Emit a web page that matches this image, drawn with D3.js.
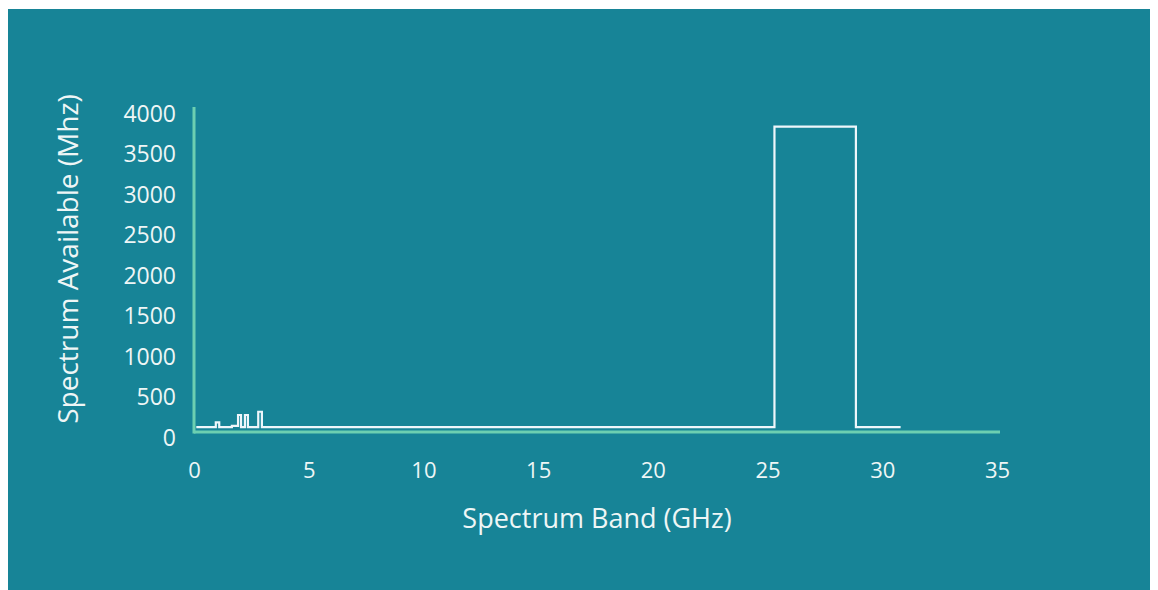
<!DOCTYPE html>
<html>
<head>
<meta charset="utf-8">
<script src="https://cdn.jsdelivr.net/npm/d3@7"></script>
<style>
  html, body { margin: 0; padding: 0; background: #ffffff; }
  svg { display: block; }
  text { font-family: "Open Sans", Lato, sans-serif; fill: #eef6f6; font-weight: 500; }
</style>
</head>
<body>
<svg id="chart" width="1158" height="590"></svg>
<script>
// Step line: frequency where each step starts (GHz) and level from there on (MHz)
const freqGHz = [0.1, 0.95, 1.1, 1.65, 1.92, 2.05, 2.22, 2.35, 2.8, 2.96, 25.3, 28.85, 30.8];
const spectrumMHz = [60, 120, 60, 75, 210, 60, 210, 60, 250, 60, 3770, 60, 60];
const xTicks = [0, 5, 10, 15, 20, 25, 30, 35];
const yTicks = [0, 500, 1000, 1500, 2000, 2500, 3000, 3500, 4000];
const xTitle = "Spectrum Band (GHz)";
const yTitle = "Spectrum Available (Mhz)";

const svg = d3.select("#chart");
const bg = "#178497";
const axisColor = "#6ccfb1";
const font = '"Open Sans", Lato, sans-serif';

svg.append("rect").attr("x", 8).attr("y", 9).attr("width", 1142).attr("height", 581).attr("fill", bg);

const x = d3.scaleLinear().domain([0, 35]).range([194, 997]);
const y = d3.scaleLinear().domain([0, 4000]).range([432, 108]);

// axes
const xAxis = svg.append("g").attr("transform", `translate(0,${y(0)})`)
  .call(d3.axisBottom(x).tickValues(xTicks).tickSize(0).tickPadding(0).tickFormat(d3.format("d")));
xAxis.select(".domain").remove();
xAxis.selectAll("text").attr("y", 30).attr("dy", "0.71em").attr("font-size", 22)
  .style("font-family", font).style("font-weight", 500).attr("fill", "#eef6f6");

const yAxis = svg.append("g").attr("transform", `translate(${x(0)},0)`)
  .call(d3.axisLeft(y).tickValues(yTicks).tickSize(0).tickPadding(0).tickFormat(d3.format("d")));
yAxis.select(".domain").remove();
yAxis.selectAll("text").attr("x", -18).attr("dy", "0.58em").attr("font-size", 23)
  .style("font-family", font).style("font-weight", 500).attr("fill", "#eef6f6");

// axis lines
svg.append("line").attr("x1", x(0)).attr("x2", x(0)).attr("y1", y(0) + 1.5).attr("y2", y(4000) - 1)
  .attr("stroke", axisColor).attr("stroke-width", 3);
svg.append("line").attr("x1", x(0)).attr("x2", 1000).attr("y1", y(0)).attr("y2", y(0))
  .attr("stroke", axisColor).attr("stroke-width", 3);

// step line
const pts = freqGHz.map((f, i) => [f, spectrumMHz[i]]);
const line = d3.line().x(d => x(d[0])).y(d => y(d[1])).curve(d3.curveStepAfter);
svg.append("path").datum(pts).attr("d", line)
  .attr("fill", "none").attr("stroke", "#eef6fb").attr("stroke-width", 2.2);

// titles
svg.append("text").attr("x", 597).attr("y", 528).attr("text-anchor", "middle")
  .attr("font-size", 27).text(xTitle);
svg.append("text").attr("transform", "translate(78,259) rotate(-90)").attr("text-anchor", "middle")
  .attr("font-size", 28).text(yTitle);
</script>
</body>
</html>
